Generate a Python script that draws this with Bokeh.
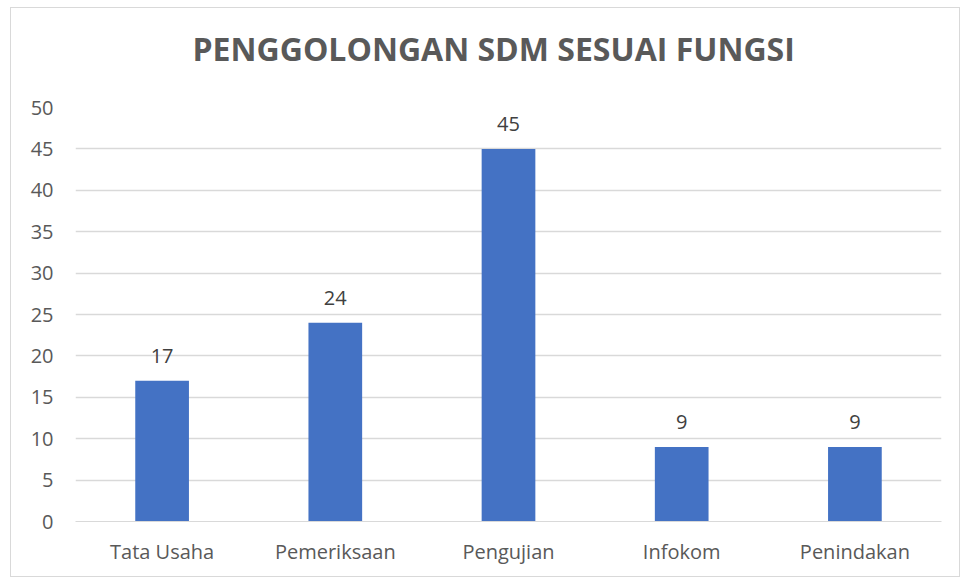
from bokeh.plotting import figure
from bokeh.models import ColumnDataSource, LabelSet, Title, Range1d, FixedTicker
from bokeh.core.properties import value
from bokeh.embed import file_html
from bokeh.resources import INLINE

categories = ["Tata Usaha", "Pemeriksaan", "Pengujian", "Infokom", "Penindakan"]
values = [17, 24, 45, 9, 9]
y_ticks = [0, 5, 10, 15, 20, 25, 30, 35, 40, 45, 50]
title_text = "PENGGOLONGAN SDM SESUAI FUNGSI"

src = ColumnDataSource(dict(cat=categories, val=values, lab=[str(v) for v in values]))

p = figure(x_range=categories, y_range=Range1d(0, 50), width=950, height=570,
           output_backend="svg", toolbar_location=None,
           min_border_left=64, min_border_right=20, min_border_top=99, min_border_bottom=57,
           styles={"border": "1px solid #d9d9d9", "margin": "7px 0 0 10px"})
p.x_range.range_padding = 0

# spacer between plot frame and title (closest to frame), then the real title
p.add_layout(Title(text=" ", text_font_size="1px", standoff=35), "above")
p.add_layout(Title(text=title_text, text_font="Open Sans", text_font_style="bold",
                   text_font_size="32px", text_color="#595959", align="left",
                   offset=117, standoff=0), "above")

p.vbar(x="cat", top="val", width=0.31, source=src, fill_color="#4472C4", line_color=None)

labels = LabelSet(x="cat", y="val", text="lab", source=src, text_align="center",
                  text_baseline="bottom", y_offset=18, text_font=value("Open Sans"),
                  text_font_size="20px", text_color="#404040")
p.add_layout(labels)

p.yaxis.ticker = FixedTicker(ticks=y_ticks)
p.yaxis.axis_line_color = None
p.yaxis.major_tick_line_color = None
p.yaxis.minor_tick_line_color = None
p.yaxis.major_tick_out = 0
p.yaxis.major_label_standoff = 22
p.xaxis.axis_line_color = "#d9d9d9"
p.xaxis.major_tick_line_color = None
p.xaxis.minor_tick_line_color = None
p.xaxis.major_tick_out = 0
p.xaxis.major_label_standoff = 16
for ax in (p.xaxis, p.yaxis):
    ax.major_label_text_font = "Open Sans"
    ax.major_label_text_font_size = "20px"
    ax.major_label_text_color = "#595959"

p.xgrid.grid_line_color = None
p.ygrid.grid_line_color = "#d9d9d9"
p.ygrid.grid_line_width = 1.3
p.outline_line_color = None

open("out.html", "w").write(file_html(p, INLINE))
